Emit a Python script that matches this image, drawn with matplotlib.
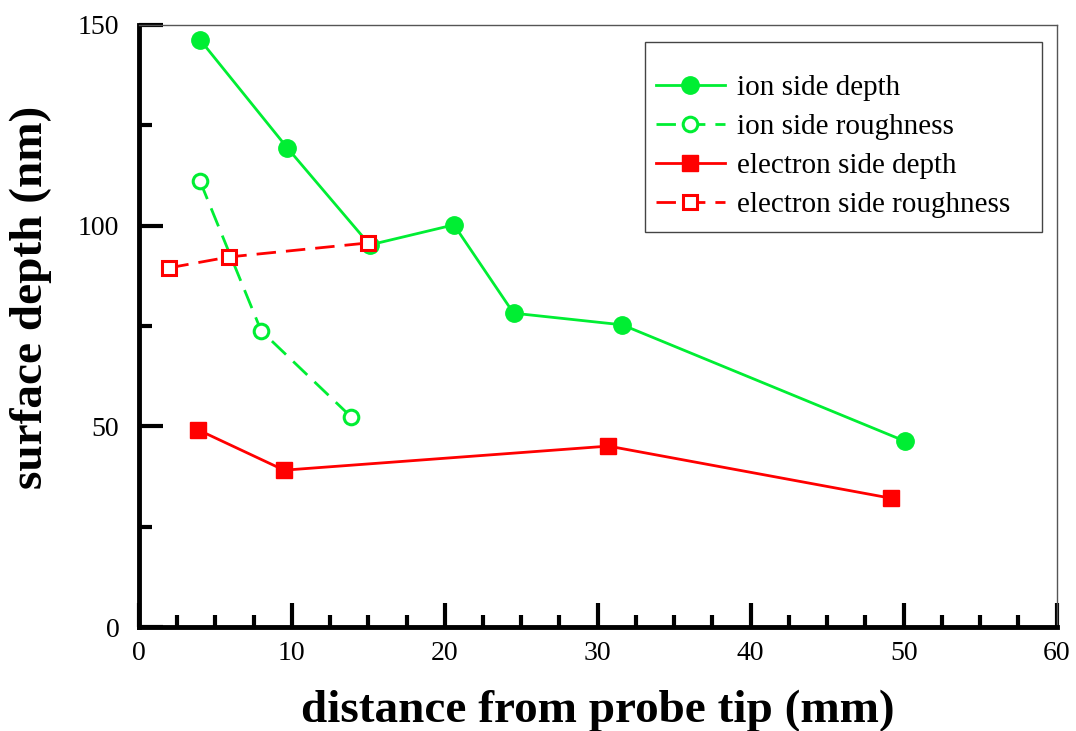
import numpy as np
import matplotlib.pyplot as plt
from matplotlib.patches import Rectangle
from matplotlib.ticker import MultipleLocator

plt.rcParams['font.family'] = ['Liberation Serif', 'DejaVu Serif']

# ion side (green)
ion_depth_x = [4.0, 9.7, 15.1, 20.6, 24.5, 31.6, 50.1]
ion_depth_y = [146.3, 119.4, 95.2, 100.2, 78.2, 75.3, 46.3]
ion_rough_x = [4.0, 8.0, 13.9]
ion_rough_y = [111.1, 73.8, 52.3]

# electron side (red)
el_depth_x = [3.9, 9.5, 30.7, 49.2]
el_depth_y = [49.1, 39.1, 45.1, 32.1]
el_rough_x = [2.0, 5.9, 15.0]
el_rough_y = [89.5, 92.2, 95.7]

green = '#00ee33'
red = '#ff0000'

fig = plt.figure(figsize=(10.76, 7.31), dpi=100)
ax = fig.add_axes([0.129, 0.142, 0.853, 0.824])

ax.plot(ion_depth_x, ion_depth_y, '-', color=green, lw=2, marker='o', ms=12.5,
        label='ion side depth')
ax.plot(ion_rough_x, ion_rough_y, '--', color=green, lw=2, dashes=(7, 3.6),
        marker='o', ms=10.5, mfc='white', mew=2.2, label='ion side roughness')
ax.plot(el_depth_x, el_depth_y, '-', color=red, lw=2, marker='s', ms=12,
        label='electron side depth')
ax.plot(el_rough_x, el_rough_y, '--', color=red, lw=2, dashes=(7, 3.6),
        marker='s', ms=10, mfc='white', mew=2.2, label='electron side roughness')

ax.set_xlim(0, 60)
ax.set_ylim(0, 150)
ax.xaxis.set_major_locator(MultipleLocator(10))
ax.xaxis.set_minor_locator(MultipleLocator(2.5))
ax.yaxis.set_major_locator(MultipleLocator(50))
ax.yaxis.set_minor_locator(MultipleLocator(25))

ax.tick_params(which='both', direction='in', top=False, right=False,
               width=3, labelsize=20)
ax.tick_params(axis='y', which='both', pad=14)
ax.tick_params(axis='x', which='both', pad=10)
ax.tick_params(which='major', length=17)
ax.tick_params(which='minor', length=9)

for side in ('left', 'bottom'):
    ax.spines[side].set_linewidth(3.5)
for side in ('top', 'right'):
    ax.spines[side].set_linewidth(1)
    ax.spines[side].set_color('#555555')

ax.set_xlabel('distance from probe tip (mm)', fontsize=34, fontweight='bold',
              labelpad=17)
ax.set_ylabel('surface depth (nm)', fontsize=34, fontweight='bold')
ax.yaxis.set_label_coords(-0.0948, 0.547)

# legend box drawn separately so the padding can be uneven
ax.add_patch(Rectangle((0.5512, 0.6561), 0.4325, 0.3157, transform=ax.transAxes,
                       facecolor='white', edgecolor='#444444', lw=1, zorder=4))
leg = ax.legend(loc='upper left', bbox_to_anchor=(0.5632, 0.917),
                borderaxespad=0, borderpad=0, frameon=False, fontsize=21,
                handlelength=2.37, labelspacing=0.43, handletextpad=0.41)
leg.set_zorder(5)

fig.savefig('out.png', dpi=100)
